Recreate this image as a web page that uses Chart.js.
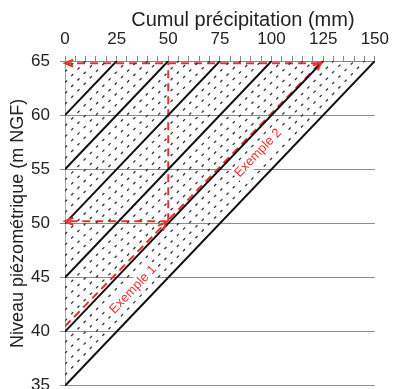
<!DOCTYPE html>
<html>
<head>
<meta charset="utf-8">
<script src="https://cdn.jsdelivr.net/npm/chart.js@4.4.0/dist/chart.umd.min.js"></script>
<style>
  html, body { margin: 0; padding: 0; overflow: hidden; background: #fff; }
  #wrap { position: absolute; left: 0; top: 0; width: 395px; height: 406px; }
</style>
</head>
<body>
<div id="wrap"><canvas id="abaque" width="395" height="406"></canvas></div>
<script>
// niveau (m NGF) a 0 mm, et cumul (mm) ou la droite atteint 65 m
const solidStart = [35, 40, 45, 50, 55, 60];
const solidEnd = [150, 125, 100, 75, 50, 25];
const dottedStart = [36, 37, 38, 39, 41, 42, 43, 44, 46, 47, 48, 49, 51, 52, 53, 54, 56, 57, 58, 59, 61, 62, 63, 64];
const dottedEnd = [145, 140, 135, 130, 120, 115, 110, 105, 95, 90, 85, 80, 70, 65, 60, 55, 45, 40, 35, 30, 20, 15, 10, 5];
const topLevel = 65;

// exemples (traits rouges)
const ex1X = [0, 49];
const ex1Y = [40.5, 50.1];
const ex1ReadX = [50, 0];
const ex1ReadY = [50.2, 50.2];
const ex1UpX = [50, 50];
const ex1UpY = [50.2, 64.8];
const ex2X = [50.5, 124];
const ex2Y = [50.4, 64.9];
const ex2ReadX = [123, 0];
const ex2ReadY = [64.8, 64.8];

const exampleLabels = ['Exemple 1', 'Exemple 2'];
const exampleLabelX = [33, 93.5];
const exampleLabelY = [43.9, 56.5];

const xTicks = [0, 25, 50, 75, 100, 125, 150];
const yTicks = [35, 40, 45, 50, 55, 60, 65];

const RED = '#e8312f';
const FONT = "'Liberation Sans', Arial, sans-serif";

function pts(xs, ys) {
    return xs.map((x, i) => ({ x: x, y: ys[i] }));
}

let datasets = [];
dottedStart.forEach((s, i) => {
    datasets.push({
        data: [{ x: 0, y: s }, { x: dottedEnd[i], y: topLevel }],
        borderColor: '#333',
        borderWidth: 1.3,
        borderDash: [3, 6]
    });
});
solidStart.forEach((s, i) => {
    datasets.push({
        data: [{ x: 0, y: s }, { x: solidEnd[i], y: topLevel }],
        borderColor: '#111',
        borderWidth: 2
    });
});
[[ex1X, ex1Y, true], [ex1ReadX, ex1ReadY, true], [ex1UpX, ex1UpY, false],
 [ex2X, ex2Y, true], [ex2ReadX, ex2ReadY, true]].forEach(r => {
    datasets.push({
        data: pts(r[0], r[1]),
        borderColor: RED,
        borderWidth: 2,
        borderDash: [8, 5],
        arrow: r[2]
    });
});

const extras = {
    id: 'extras',
    afterDatasetsDraw(chart) {
        const ctx = chart.ctx;
        const xs = chart.scales.x, ys = chart.scales.y;
        ctx.save();
        // pointes de fleches
        chart.data.datasets.forEach(ds => {
            if (!ds.arrow) return;
            const n = ds.data.length;
            const x1 = xs.getPixelForValue(ds.data[n - 2].x), y1 = ys.getPixelForValue(ds.data[n - 2].y);
            const x2 = xs.getPixelForValue(ds.data[n - 1].x), y2 = ys.getPixelForValue(ds.data[n - 1].y);
            const ang = Math.atan2(y2 - y1, x2 - x1);
            ctx.strokeStyle = RED;
            ctx.lineWidth = 2;
            ctx.setLineDash([]);
            ctx.beginPath();
            ctx.moveTo(x2 - 9 * Math.cos(ang - 0.4), y2 - 9 * Math.sin(ang - 0.4));
            ctx.lineTo(x2, y2);
            ctx.lineTo(x2 - 9 * Math.cos(ang + 0.4), y2 - 9 * Math.sin(ang + 0.4));
            ctx.stroke();
        });
        // etiquettes des exemples
        const a = Math.atan2(ys.getPixelForValue(topLevel) - ys.getPixelForValue(solidStart[1]),
                             xs.getPixelForValue(solidEnd[1]) - xs.getPixelForValue(0));
        ctx.font = '13px ' + FONT;
        ctx.textAlign = 'center';
        ctx.textBaseline = 'middle';
        exampleLabels.forEach((t, i) => {
            const px = xs.getPixelForValue(exampleLabelX[i]);
            const py = ys.getPixelForValue(exampleLabelY[i]);
            const w = ctx.measureText(t).width;
            ctx.save();
            ctx.translate(px, py);
            ctx.rotate(a);
            ctx.fillStyle = '#fff';
            ctx.fillRect(-w / 2 - 2, -8, w + 4, 16);
            ctx.fillStyle = RED;
            ctx.fillText(t, 0, 0);
            ctx.restore();
        });
        // titre de l'axe du haut
        ctx.font = '20px ' + FONT;
        ctx.fillStyle = '#222';
        ctx.fillText('Cumul précipitation (mm)', (xs.left + xs.right) / 2 + 23, 20);
        ctx.restore();
    }
};

new Chart(document.getElementById('abaque'), {
    type: 'scatter',
    data: { datasets: datasets },
    options: {
        responsive: false,
        animation: false,
        showLine: true,
        elements: { point: { radius: 0, hoverRadius: 0 } },
        layout: { autoPadding: false, padding: { left: 0, top: 0, right: 19, bottom: 0 } },
        plugins: { legend: { display: false }, tooltip: { enabled: false } },
        scales: {
            x: {
                type: 'linear',
                position: 'top',
                min: 0,
                max: 150,
                afterFit: s => { s.height = 61; },
                ticks: {
                    stepSize: 5,
                    autoSkip: false,
                    maxRotation: 0,
                    padding: 6,
                    color: '#222',
                    font: { family: FONT, size: 17 },
                    callback: v => (xTicks.includes(v) ? String(v) : '')
                },
                grid: { drawOnChartArea: false, tickLength: 5, color: '#888' },
                border: { color: '#888' }
            },
            y: {
                type: 'linear',
                min: 35,
                max: 65,
                afterFit: s => { s.width = 65; },
                ticks: {
                    stepSize: 5,
                    padding: 10,
                    color: '#222',
                    font: { family: FONT, size: 17 },
                    callback: v => (yTicks.includes(v) ? String(v) : '')
                },
                grid: { tickLength: 5, color: '#8c8c8c' },
                border: { color: '#aaa' },
                title: {
                    display: true,
                    text: 'Niveau piézométrique (m NGF)',
                    color: '#222',
                    padding: { top: 7 },
                    font: { family: FONT, size: 18 }
                }
            }
        }
    },
    plugins: [extras]
});
</script>
</body>
</html>
